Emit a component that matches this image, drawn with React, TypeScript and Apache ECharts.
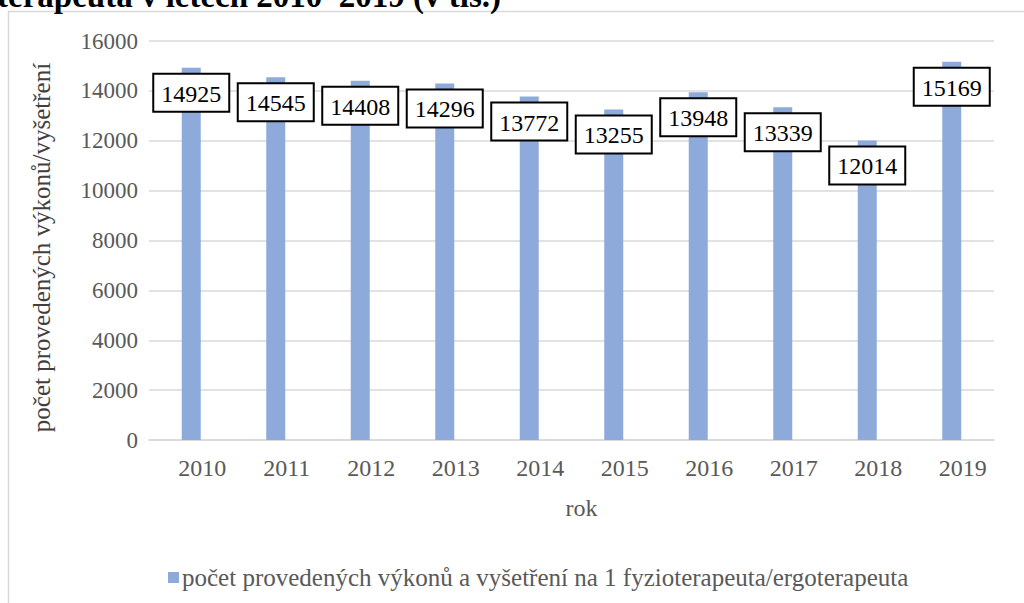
import React, { useEffect, useRef } from "react";
import * as echarts from "echarts";

const categories = ["2010", "2011", "2012", "2013", "2014", "2015", "2016", "2017", "2018", "2019"];
const values = [14925, 14545, 14408, 14296, 13772, 13255, 13948, 13339, 12014, 15169];
const seriesName = "počet provedených výkonů a vyšetření na 1 fyzioterapeuta/ergoterapeuta";
const yAxisTitle = "počet provedených výkonů/vyšetření";
const xAxisTitle = "rok";
const titleText = "terapeuta v letech 2010–2019 (v tis.)";

const FONT = "'Liberation Serif', 'Times New Roman', serif";

export default function App() {
  const ref = useRef<HTMLDivElement>(null);
  useEffect(() => {
    if (!ref.current) return;
    const chart = echarts.init(ref.current, null, { renderer: "svg" });
    chart.setOption({
      animation: false,
      backgroundColor: "#ffffff",
      textStyle: { fontFamily: FONT },
      graphic: [
        {
          type: "rect",
          shape: { x: 8.5, y: 11.5, width: 1030, height: 620 },
          style: { fill: "none", stroke: "#d9d9d9", lineWidth: 1.5 },
          z: -1,
        },
        {
          type: "text",
          x: -3,
          y: -4,
          style: {
            text: titleText,
            font: `bold 33px ${FONT}`,
            fill: "#000000",
            verticalAlign: "middle",
            align: "left",
          },
        },
      ],
      grid: { left: 149, right: 30, top: 41, bottom: 163, containLabel: false },
      legend: {
        bottom: 13,
        left: 168,
        padding: 0,
        itemWidth: 11,
        itemHeight: 11,
        icon: "rect",
        itemGap: 4,
        textStyle: { fontFamily: FONT, fontSize: 25, color: "#595959", padding: [0, 0, 0, -2] },
        data: [seriesName],
      },
      xAxis: {
        type: "category",
        data: categories,
        name: xAxisTitle,
        nameLocation: "middle",
        nameGap: 56,
        nameTextStyle: { fontFamily: FONT, fontSize: 24, color: "#595959", padding: [0, 0, 0, 20] },
        axisLine: { lineStyle: { color: "#d9d9d9", width: 1.5 } },
        axisTick: { show: false },
        axisLabel: {
          fontFamily: FONT,
          fontSize: 24,
          color: "#595959",
          margin: 16,
          padding: [0, 0, 0, 22],
        },
      },
      yAxis: {
        type: "value",
        min: 0,
        max: 16000,
        interval: 2000,
        name: yAxisTitle,
        nameLocation: "middle",
        nameGap: 95,
        nameRotate: 90,
        nameTextStyle: { fontFamily: FONT, fontSize: 25, color: "#404040", padding: [0, 14, 0, 0] },
        axisLine: { show: false },
        axisTick: { show: false },
        axisLabel: {
          fontFamily: FONT,
          fontSize: 23,
          color: "#595959",
          margin: 11,
          formatter: (v: number) => String(v),
        },
        splitLine: { lineStyle: { color: "#d9d9d9", width: 1.5 } },
      },
      series: [
        {
          name: seriesName,
          type: "bar",
          data: values,
          barWidth: 19,
          itemStyle: { color: "#8eaadb" },
          label: {
            show: true,
            position: "insideTop",
            distance: 7,
            fontFamily: FONT,
            fontSize: 24,
            lineHeight: 26,
            color: "#000000",
            backgroundColor: "#ffffff",
            borderColor: "#000000",
            borderWidth: 2,
            padding: [6, 7, 4, 7],
          },
        },
      ],
    });
    return () => chart.dispose();
  }, []);
  return (
    <div
      ref={ref}
      style={{ position: "fixed", left: 0, top: 0, width: 1024, height: 603, background: "#fff" }}
    />
  );
}
